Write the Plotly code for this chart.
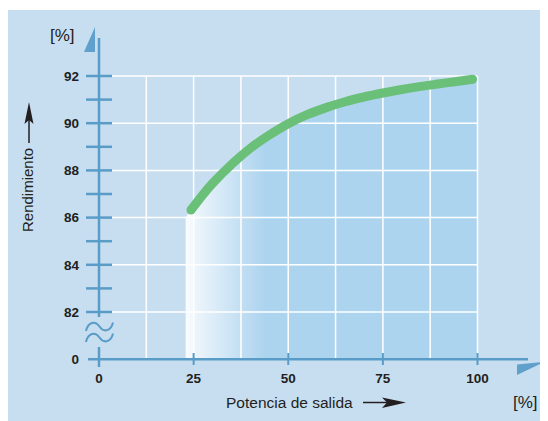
import plotly.graph_objects as go

# ---- data ----
x_ticks = [0, 25, 50, 75, 100]
x_tick_labels = ["0", "25", "50", "75", "100"]
y_ticks = [80, 82, 84, 86, 88, 90, 92]
y_tick_labels = ["0", "82", "84", "86", "88", "90", "92"]
y_minor = [83, 85, 87, 89, 91]
x_grid = [12.5, 25, 37.5, 50, 62.5, 75, 87.5, 100]
y_grid = [82, 84, 86, 88, 90, 92]

curve_x = [24.3, 27, 30, 35, 40, 45, 50, 55, 60, 65, 70, 75, 80, 85, 90, 95, 98.7]
curve_y = [86.32, 86.88, 87.45, 88.25, 88.94, 89.50, 89.98, 90.36, 90.66, 90.91, 91.11, 91.28, 91.43, 91.56, 91.67, 91.78, 91.86]
fill_left = 22.9
fill_right = 100

# ---- styling ----
W, H = 548, 421
OFF = 8                      # page body margin (screen = figure + 8)
ML, MR, MT, MB = 72, 0, 2, 61
PW, PH = W - ML - MR, H - MT - MB
PANEL = "#c7def1"
FILLC = "#add4ef"
AXC = "#5a9cc8"
TRI = "#5fa0cc"
GREEN = "#6ac078"
TXT = "#231f20"
FONT = "Liberation Sans, Arial, sans-serif"

# screen-pixel scale of the data axes
X0PX, XSCALE = 99, 3.785   # x=0 at screen px 99
Y92PX, YSCALE = 76, 23.6   # y=92 at screen px 76
def X(px): return (px - X0PX) / XSCALE
def Y(py): return 92 - (py - Y92PX) / YSCALE
def xp(px): return (px - OFF - ML) / PW
def yp(py): return (H - MB - (py - OFF)) / PH

fig = go.Figure()

# gradient fill under curve
fx = [fill_left] + curve_x + [fill_right, fill_right, fill_left]
fy = [curve_y[0] - 0.3] + curve_y + [curve_y[-1] + 0.04, 80, 80]
fig.add_trace(go.Scatter(
    x=fx, y=fy, mode="lines", fill="toself", line=dict(width=0),
    fillgradient=dict(type="horizontal", start=fill_left, stop=fill_right,
                      colorscale=[[0, "#fbfdff"], [0.04, "#ebf4fb"], [0.12, "#d6e9f7"],
                                  [0.2, "#bfddf2"], [0.27, FILLC], [1, FILLC]]),
    hoverinfo="skip", showlegend=False))

# grid lines (white) between fill and curve
gx, gy = [], []
for v in y_grid:
    gx += [X(112), fill_right, None]; gy += [v, v, None]
for v in x_grid:
    gx += [v, v, None]; gy += [80, 92, None]
fig.add_trace(go.Scatter(x=gx, y=gy, mode="lines", line=dict(color="white", width=1.5),
                         hoverinfo="skip", showlegend=False))

# curve
fig.add_trace(go.Scatter(x=curve_x, y=curve_y, mode="lines",
                         line=dict(color=GREEN, width=9, shape="spline", smoothing=1),
                         hoverinfo="skip", showlegend=False))
fig.add_trace(go.Scatter(x=[curve_x[0], curve_x[-1]], y=[curve_y[0], curve_y[-1]], mode="markers",
                         marker=dict(color=GREEN, size=9, line=dict(width=0)),
                         hoverinfo="skip", showlegend=False))

shapes = []
# panel background
shapes.append(dict(type="rect", xref="paper", yref="paper", x0=xp(8), x1=xp(W + 20), y0=yp(10), y1=yp(H + 20),
                   fillcolor=PANEL, line=dict(width=0), layer="below"))
# y axis line (broken)
shapes.append(dict(type="line", xref="x", yref="y", x0=0, x1=0, y0=Y(38), y1=Y(317), line=dict(color=AXC, width=2.5)))
shapes.append(dict(type="line", xref="x", yref="y", x0=0, x1=0, y0=Y(347), y1=Y(367), line=dict(color=AXC, width=2.5)))
# y ticks
for v in y_ticks[1:] + y_minor:
    shapes.append(dict(type="line", xref="x", yref="y", x0=X(86), x1=X(112), y0=v, y1=v,
                       line=dict(color=AXC, width=2.5)))
# x axis
shapes.append(dict(type="line", xref="x", yref="y", x0=X(88), x1=X(528), y0=80, y1=80, line=dict(color=AXC, width=2.5)))
for v in x_ticks[1:]:
    shapes.append(dict(type="line", xref="x", yref="y", x0=v, x1=v, y0=Y(353), y1=Y(365),
                       line=dict(color=AXC, width=2)))
# axis arrow triangles
def ppath(pts, close=True):
    s = "M " + " L ".join(f"{xp(a):.5f},{yp(b):.5f}" for a, b in pts)
    return s + (" Z" if close else "")
shapes.append(dict(type="path", xref="paper", yref="paper", path=ppath([(84, 52), (95, 27), (95, 52)]),
                   fillcolor=TRI, line=dict(width=0)))
shapes.append(dict(type="path", xref="paper", yref="paper", path=ppath([(517, 364.5), (544, 362), (517, 375)]),
                   fillcolor=TRI, line=dict(width=0)))
# axis break squiggle
def squiggle(dy):
    return (f"M {xp(86):.5f},{yp(331+dy):.5f} "
            f"C {xp(88):.5f},{yp(322+dy):.5f} {xp(95):.5f},{yp(320+dy):.5f} {xp(99.5):.5f},{yp(326.5+dy):.5f} "
            f"C {xp(104):.5f},{yp(333+dy):.5f} {xp(111):.5f},{yp(331+dy):.5f} {xp(113):.5f},{yp(322.5+dy):.5f}")
for dy in (0, 11):
    shapes.append(dict(type="path", xref="paper", yref="paper", path=squiggle(dy),
                       line=dict(color=AXC, width=2)))
# label arrows
shapes.append(dict(type="line", xref="paper", yref="paper", x0=xp(29), x1=xp(29), y0=yp(143), y1=yp(118),
                   line=dict(color=TXT, width=1.5)))
shapes.append(dict(type="path", xref="paper", yref="paper",
                   path=ppath([(29, 102), (33.5, 124), (29, 120), (24.5, 124)]), fillcolor=TXT, line=dict(width=0)))
shapes.append(dict(type="line", xref="paper", yref="paper", x0=xp(363), x1=xp(390), y0=yp(402.5), y1=yp(402.5),
                   line=dict(color=TXT, width=1.5)))
shapes.append(dict(type="path", xref="paper", yref="paper",
                   path=ppath([(406, 402.5), (382, 397.5), (387, 402.5), (382, 408)]), fillcolor=TXT, line=dict(width=0)))

annotations = [
    dict(text="[%]", xref="paper", yref="paper", x=xp(62.5), y=yp(36), showarrow=False,
         font=dict(family=FONT, size=17, color=TXT), xanchor="center", yanchor="middle"),
    dict(text="[%]", xref="paper", yref="paper", x=xp(525), y=yp(402), showarrow=False,
         font=dict(family=FONT, size=17, color=TXT), xanchor="center", yanchor="middle"),
    dict(text="Potencia de salida", xref="paper", yref="paper", x=xp(289.5), y=yp(402), showarrow=False,
         font=dict(family=FONT, size=15.5, color=TXT), xanchor="center", yanchor="middle"),
    dict(text="Rendimiento", xref="paper", yref="paper", x=xp(27), y=yp(190), showarrow=False, textangle=-90,
         font=dict(family=FONT, size=15, color=TXT), xanchor="center", yanchor="middle"),
]

fig.update_layout(
    width=W, height=H, margin=dict(l=ML, r=MR, t=MT, b=MB, pad=0),
    paper_bgcolor="white", plot_bgcolor="rgba(0,0,0,0)",
    shapes=shapes, annotations=annotations, showlegend=False,
    xaxis=dict(range=[X(ML + OFF), X(W - MR + OFF)], showgrid=False, zeroline=False, showline=False, ticks="",
               tickvals=x_ticks, ticktext=x_tick_labels,
               tickfont=dict(family=FONT, size=13.5, color=TXT, weight="bold")),
    yaxis=dict(range=[Y(H - MB + OFF), Y(MT + OFF)], showgrid=False, zeroline=False, showline=False, ticks="",
               tickvals=y_ticks, ticktext=y_tick_labels,
               tickfont=dict(family=FONT, size=13.5, color=TXT, weight="bold")),
)
fig.write_html("out.html")
